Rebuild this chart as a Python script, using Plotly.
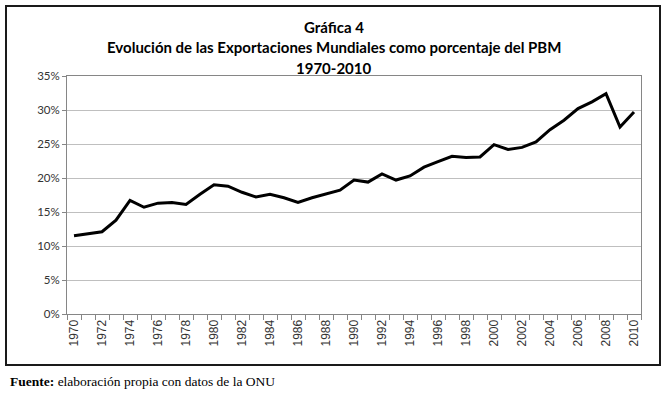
import plotly.graph_objects as go

years = list(range(1970, 2011))
export_share = [11.5, 11.8, 12.1, 13.8, 16.7, 15.7, 16.3, 16.4, 16.1, 17.6,
                19.0, 18.8, 17.9, 17.2, 17.6, 17.1, 16.4, 17.1, 17.6, 18.2,
                19.7, 19.4, 20.6, 19.7, 20.3, 21.6, 22.4, 23.2, 23.0, 23.1,
                24.9, 24.2, 24.5, 25.3, 27.1, 28.5, 30.2, 31.2, 32.4, 27.5,
                29.7]
y_ticks = [0, 5, 10, 15, 20, 25, 30, 35]
y_tick_labels = ["0%", "5%", "10%", "15%", "20%", "25%", "30%", "35%"]
x_tick_years = list(range(1970, 2011, 2))

title_lines = ["Gráfica 4",
               "Evolución de las Exportaciones Mundiales como porcentaje del PBM",
               "1970-2010"]
source_note = "<b>Fuente:</b> elaboración propia con datos de la ONU"

fig = go.Figure()
fig.add_trace(go.Scatter(x=years, y=export_share, mode="lines",
                         line=dict(color="black", width=3), hoverinfo="x+y",
                         showlegend=False))

L, R, T, B = 67, 26, 76, 84
W, H = 667, 398
pw, ph = W - L - R, H - T - B

def px_x(px):
    return (px - L) / pw

def px_y(py):
    return (H - B - py) / ph

fig.update_layout(
    width=W, height=H,
    margin=dict(l=L, r=R, t=T, b=B),
    paper_bgcolor="white", plot_bgcolor="white",
    showlegend=False,
    xaxis=dict(
        range=[1969.5, 2010.5],
        tickmode="array", tickvals=x_tick_years,
        ticktext=[str(y) for y in x_tick_years],
        tickangle=-90,
        ticks="", showgrid=False,
        showline=True, linecolor="#868686", linewidth=1, mirror=True,
        tickfont=dict(family="Liberation Sans, Arial", size=12, color="#333333"),
        minor=dict(tickmode="linear", tick0=1969.5, dtick=1, ticks="outside",
                   ticklen=5, tickcolor="#868686", showgrid=False),
        zeroline=False,
    ),
    yaxis=dict(
        range=[0, 35],
        tickmode="array", tickvals=y_ticks, ticktext=y_tick_labels,
        ticks="outside", ticklen=4, tickcolor="#868686",
        showgrid=True, gridcolor="#bfbfbf", gridwidth=1,
        showline=True, linecolor="#868686", linewidth=1, mirror=True,
        tickfont=dict(family="Lato, Liberation Sans", size=11.5, color="#333333"),
        zeroline=False,
    ),
)

title_y = [27, 47, 68]
for txt, yy in zip(title_lines, title_y):
    fig.add_annotation(text=txt,
                       xref="paper", yref="paper",
                       x=px_x(W / 2), y=px_y(yy), xanchor="center", yanchor="middle",
                       showarrow=False,
                       font=dict(family="Lato", size=15, color="black",
                                 weight="bold"))

fig.add_annotation(text=source_note, xref="paper", yref="paper",
                   x=px_x(8), y=px_y(382), xanchor="left", yanchor="middle",
                   showarrow=False,
                   font=dict(family="Liberation Serif, Times New Roman", size=13.5,
                             color="black"))

fig.add_shape(type="rect", xref="paper", yref="paper",
              x0=px_x(6), x1=px_x(660), y0=px_y(365), y1=px_y(6),
              line=dict(color="#1a1a1a", width=2), fillcolor="rgba(0,0,0,0)",
              layer="below")

fig.write_html("out.html", config={"displayModeBar": False},
               post_script="document.body.style.margin='0';document.body.style.overflow='hidden';")
